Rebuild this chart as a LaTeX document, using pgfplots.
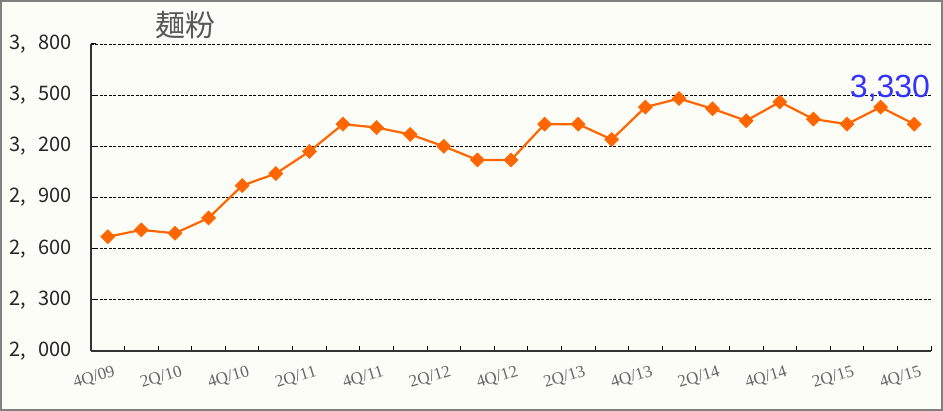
\documentclass[border=0pt]{standalone}
\usepackage{fontspec}
\usepackage{pgfplots}
\pgfplotsset{compat=1.18}
\setmainfont{Liberation Serif}
\newfontfamily\cjk{Noto Sans CJK JP}
\newfontfamily\arial{Liberation Sans}
\definecolor{bg}{HTML}{FDFDF7}
\definecolor{ora}{HTML}{FF6600}
\definecolor{lbl}{HTML}{3333FF}
\definecolor{frame}{HTML}{808080}
\begin{document}
\begin{tikzpicture}
\useasboundingbox (-91pt,-60pt) rectangle (852pt,351pt);
\fill[bg] (-91pt,-60pt) rectangle (852pt,351pt);
\draw[frame, line width=1.6pt] (-90pt,-59pt) rectangle (851pt,350pt);
\begin{axis}[
  at={(0pt,0pt)}, anchor=south west,
  width=840pt, height=307pt, scale only axis,
  xmin=-0.5, xmax=24.5, ymin=2000, ymax=3800,
  axis x line=bottom, axis y line=left,
  axis line style={-, line width=1.4pt, color=black!80},
  every outer x axis line/.append style={-},
  every outer y axis line/.append style={-},
  tick align=inside, major tick length=0pt, minor tick length=5pt,
  tick style={black, line width=1pt},
  xtick={0,2,...,24},
  xticklabels={4Q/09,2Q/10,4Q/10,2Q/11,4Q/11,2Q/12,4Q/12,2Q/13,4Q/13,2Q/14,4Q/14,2Q/15,4Q/15},
  minor xtick={-0.5,0.5,...,24.5},
  xticklabel style={rotate=17, anchor=north east, font=\fontsize{17}{17}\selectfont, text=black!60, xshift=4pt, yshift=-11pt},
  ytick={2000,2300,...,3800},
  minor ytick={2000,2300,...,3800},
  yticklabels={{2,\hspace{0.6em}000},{2,\hspace{0.6em}300},{2,\hspace{0.6em}600},{2,\hspace{0.6em}900},{3,\hspace{0.6em}200},{3,\hspace{0.6em}500},{3,\hspace{0.6em}800}},
  yticklabel style={font=\cjk\fontsize{20}{20}\selectfont, text=black!85, anchor=east, xshift=-16pt},
  ymajorgrids,
  major grid style={black, line width=0.8pt, dash pattern=on 3pt off 1.5pt},
  clip=false,
]
\addplot[ora, line width=2.2pt, mark=square*, mark size=5pt,
  mark options={rotate=45, fill=ora, draw=ora, line width=0.5pt, solid}]
coordinates {
(0,2670) (1,2710) (2,2690) (3,2780) (4,2970) (5,3040) (6,3170) (7,3330)
(8,3310) (9,3270) (10,3200) (11,3120) (12,3120) (13,3330) (14,3330) (15,3240)
(16,3430) (17,3480) (18,3420) (19,3350) (20,3460) (21,3360) (22,3330) (23,3430)
(24,3330)
};
\node[anchor=base, text=lbl] at (axis cs:23.28,3489) {\arial\fontsize{32}{32}\selectfont 3,330};
\node[anchor=center, text=black!65] at (rel axis cs:0.112,1.062) {\cjk\fontsize{30}{30}\selectfont 麺粉};
\end{axis}
\end{tikzpicture}
\end{document}
